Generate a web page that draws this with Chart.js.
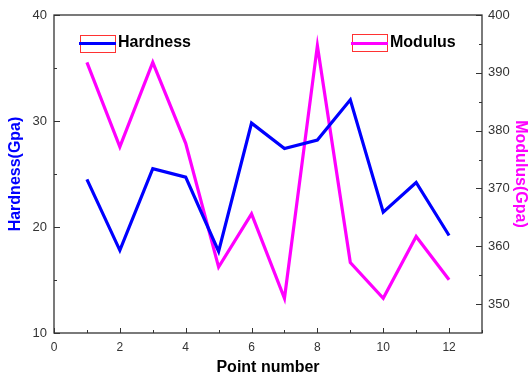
<!DOCTYPE html>
<html>
<head>
<meta charset="utf-8">
<script src="https://cdn.jsdelivr.net/npm/chart.js@4/dist/chart.umd.min.js"></script>
<style>
  body { margin: 0; background: #fff; }
  #wrap { width: 529px; height: 376px; }
</style>
</head>
<body>
<div id="wrap"><canvas id="myChart" width="529" height="376"></canvas></div>
<script>
// data
var points = [1, 2, 3, 4, 5, 6, 7, 8, 9, 10, 11, 12];
var hardness = [24.5, 17.8, 25.5, 24.7, 17.7, 29.8, 27.4, 28.2, 32.0, 21.4, 24.2, 19.2];
var modulus = [391.8, 377.2, 391.8, 377.8, 356.4, 365.6, 351.0, 394.7, 357.2, 351.0, 361.7, 354.2];

var hardTicks = [10, 15, 20, 25, 30, 35, 40];
var modTicks = [350, 355, 360, 365, 370, 375, 380, 385, 390, 395, 400];
var xTicks = [0, 1, 2, 3, 4, 5, 6, 7, 8, 9, 10, 11, 12, 13];

var BLUE = '#0000ff';
var MAGENTA = '#ff00ff';
var AXIS = '#333333';
var boldFont = { family: 'Liberation Sans', size: 16, weight: 'bold', lineHeight: 1.1 };
var tickFont = { family: 'Liberation Sans', size: 13 };

function toXY(vals) {
    return vals.map(function (v, i) { return { x: points[i], y: v }; });
}

// frame, inward ticks and the two legend boxes
var framePlugin = {
    id: 'frame',
    afterDraw: function (chart) {
        var ctx = chart.ctx;
        var a = chart.chartArea;
        var sx = chart.scales.x, sy = chart.scales.y, sy2 = chart.scales.y2;
        ctx.save();
        ctx.strokeStyle = AXIS;
        ctx.lineWidth = 1.3;
        ctx.strokeRect(a.left, a.top, a.right - a.left, a.bottom - a.top);
        ctx.lineWidth = 1;
        ctx.beginPath();
        xTicks.forEach(function (v) {
            var px = Math.round(sx.getPixelForValue(v)) + 0.5;
            var len = v % 2 === 0 ? 5 : 3;
            ctx.moveTo(px, a.bottom); ctx.lineTo(px, a.bottom - len);
        });
        hardTicks.forEach(function (v) {
            var py = Math.round(sy.getPixelForValue(v)) + 0.5;
            var len = v % 10 === 0 ? 6 : 3;
            ctx.moveTo(a.left, py); ctx.lineTo(a.left + len, py);
        });
        modTicks.forEach(function (v) {
            var py = Math.round(sy2.getPixelForValue(v)) + 0.5;
            var len = v % 10 === 0 ? 6 : 3;
            ctx.moveTo(a.right, py); ctx.lineTo(a.right - len, py);
        });
        ctx.stroke();

        // legend entries
        var items = [
            { ds: chart.data.datasets[0], bx: 80, by: 35 },
            { ds: chart.data.datasets[1], bx: 352, by: 34 }
        ];
        items.forEach(function (it) {
            ctx.strokeStyle = 'rgb(255,50,50)';
            ctx.lineWidth = 1;
            ctx.strokeRect(it.bx + 0.5, it.by + 0.5, 35, 17);
            ctx.strokeStyle = it.ds.borderColor;
            ctx.lineWidth = 3;
            ctx.beginPath();
            ctx.moveTo(it.bx - 1, 43.5); ctx.lineTo(it.bx + 36, 43.5);
            ctx.stroke();
            ctx.fillStyle = '#000';
            ctx.font = 'bold 16px "Liberation Sans"';
            ctx.textBaseline = 'middle';
            ctx.fillText(it.ds.label, it.bx + 38, 43);
        });
        ctx.restore();
    }
};

new Chart(document.getElementById('myChart').getContext('2d'), {
    type: 'line',
    data: {
        datasets: [{
            label: 'Hardness',
            data: toXY(hardness),
            borderColor: BLUE,
            backgroundColor: BLUE,
            borderWidth: 3.2,
            pointRadius: 0,
            tension: 0,
            yAxisID: 'y'
        }, {
            label: 'Modulus',
            data: toXY(modulus),
            borderColor: MAGENTA,
            backgroundColor: MAGENTA,
            borderWidth: 3.2,
            pointRadius: 0,
            tension: 0,
            yAxisID: 'y2'
        }]
    },
    options: {
        responsive: false,
        animation: false,
        layout: { padding: { top: 15, left: 0, right: 0, bottom: 0 } },
        plugins: { legend: { display: false }, tooltip: { enabled: false } },
        scales: {
            x: {
                type: 'linear',
                min: 0,
                max: 13,
                grid: { display: false, drawTicks: false },
                border: { display: false },
                ticks: { stepSize: 2, includeBounds: false, font: { family: 'Liberation Sans', size: 12 }, color: AXIS, padding: 7, maxRotation: 0 },
                title: { display: true, text: 'Point number', color: '#000', font: boldFont, padding: { top: 0, bottom: 0 } },
                afterFit: function (s) { s.height = 43; }
            },
            y: {
                position: 'left',
                min: 10,
                max: 40,
                grid: { display: false, drawTicks: false },
                border: { display: false },
                ticks: { stepSize: 10, font: tickFont, color: AXIS, padding: 7 },
                title: { display: true, text: 'Hardness(Gpa)', color: BLUE, font: boldFont, padding: { top: 7, bottom: 0 } },
                afterFit: function (s) { s.width = 54; }
            },
            y2: {
                position: 'right',
                min: 345,
                max: 400,
                grid: { display: false, drawTicks: false },
                border: { display: false },
                ticks: { stepSize: 10, includeBounds: false, font: tickFont, color: AXIS, padding: 6 },
                title: { display: true, text: 'Modulus(Gpa)', color: MAGENTA, font: boldFont, padding: { top: 0, bottom: 0 } },
                afterFit: function (s) { s.width = 47; }
            }
        }
    },
    plugins: [framePlugin]
});
</script>
</body>
</html>
